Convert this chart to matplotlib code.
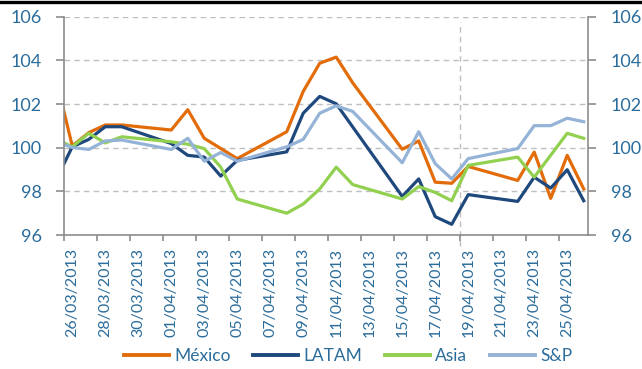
import matplotlib
matplotlib.use('Agg')
import matplotlib.pyplot as plt
import matplotlib.dates as mdates
import matplotlib.transforms as mtransforms
from matplotlib.lines import Line2D
from matplotlib.ticker import FixedLocator, FixedFormatter, NullFormatter
import numpy as np
import pandas as pd

plt.rcParams['font.family'] = ['Lato', 'DejaVu Sans']

nan = np.nan
dates = ['2013-03-25', '2013-03-26', '2013-03-27', '2013-03-28', '2013-03-29',
         '2013-04-01', '2013-04-02', '2013-04-03', '2013-04-04', '2013-04-05',
         '2013-04-08', '2013-04-09', '2013-04-10', '2013-04-11', '2013-04-12',
         '2013-04-15', '2013-04-16', '2013-04-17', '2013-04-18', '2013-04-19',
         '2013-04-22', '2013-04-23', '2013-04-24', '2013-04-25', '2013-04-26']

mexico = [103.2, 100.08, 100.69, 101.04, 101.04, 100.81, 101.74, 100.43, nan, 99.50,
          100.73, 102.58, 103.87, 104.15, 102.97, 99.93, 100.31, 98.42, 98.37, 99.14,
          98.50, 99.80, 97.68, 99.65, 98.11]
latam = [98.5, 100.04, 100.38, 100.96, 100.96, 100.19, 99.65, 99.57, 98.70, 99.42,
         99.81, 101.58, 102.35, 102.01, nan, 97.77, 98.57, 96.84, 96.49, 97.85,
         97.54, 98.65, 98.15, 98.99, 97.57]
asia = [100.4, 100.04, 100.66, 100.22, 100.50, 100.27, 100.16, 99.96, 99.11, 97.65,
        97.00, 97.42, 98.11, 99.11, 98.31, 97.65, 98.22, 97.95, 97.57, 99.19,
        99.57, 98.65, nan, 100.66, 100.43]
sp = [100.29, 100.01, 99.92, 100.31, 100.35, 99.92, 100.43, 99.38, 99.78, 99.38,
      100.04, 100.38, 101.58, 101.92, 101.66, 99.31, 100.73, 99.27, 98.57, 99.50,
      99.96, 101.01, 101.01, 101.35, 101.19]

series_names = ['México', 'LATAM', 'Asia', 'S&P']
series_vals = [mexico, latam, asia, sp]
series_colors = ['#E36C0A', '#1F497D', '#92D050', '#95B3D7']

tick_dates = pd.date_range('2013-03-26', periods=16, freq='2D')
tick_labels = [d.strftime('%d/%m/%Y') for d in tick_dates]
y_ticks = [96, 98, 100, 102, 104, 106]
marker_date = '2013-04-19'

text_color = '#2B6C9B'
spine_color = '#8C8C8C'

fig = plt.figure(figsize=(6.42, 3.69), dpi=100)
ax = fig.add_axes([0.0997, 0.3631, 0.9164 - 0.0997, 0.9547 - 0.3631])

x = pd.to_datetime(dates) + pd.Timedelta(hours=12)
for name, vals, col in zip(series_names, series_vals, series_colors):
    v = np.array(vals, dtype=float)
    m = ~np.isnan(v)
    ax.plot(x[m], v[m], color=col, lw=2.3, label=name, solid_joinstyle='round')

x0 = pd.Timestamp('2013-03-26')
ax.set_xlim(mdates.date2num(x0), mdates.date2num(x0) + 31.78)
ax.set_ylim(96, 106)

# grid
for yv in y_ticks[1:]:
    ax.axhline(yv, color='#BFBFBF', lw=1.0, ls=(0, (4, 3)), zorder=0)

# vertical dashed marker
trans = mtransforms.blended_transform_factory(ax.transData, ax.transAxes)
xm = mdates.date2num(pd.Timestamp(marker_date))
ax.plot([xm, xm], [-0.05, 0.977], transform=trans, color='#BFBFBF', lw=1.0,
        ls=(0, (4, 3)), clip_on=False, zorder=0)

# spines
for s in ['left', 'right', 'bottom']:
    ax.spines[s].set_color(spine_color)
    ax.spines[s].set_linewidth(1.2)
ax.spines['top'].set_visible(False)

# y ticks both sides
ax.set_yticks(y_ticks)
ax.yaxis.set_ticks_position('both')
ax.tick_params(axis='y', which='major', direction='out', length=6, width=1.2,
               color=spine_color, labelsize=13, labelcolor=text_color, pad=10,
               labelleft=True, labelright=True)

# x ticks: major at day boundaries, labels centered in day
ax.xaxis.set_major_locator(FixedLocator(mdates.date2num(tick_dates)))
ax.xaxis.set_major_formatter(NullFormatter())
ax.xaxis.set_minor_locator(FixedLocator(mdates.date2num(tick_dates + pd.Timedelta(hours=12))))
ax.xaxis.set_minor_formatter(FixedFormatter(tick_labels))
ax.tick_params(axis='x', which='major', direction='out', length=4, width=1.2, color=spine_color)
ax.tick_params(axis='x', which='minor', length=0, labelsize=11.5, labelcolor=text_color,
               labelrotation=90, pad=9)

# legend
leg = fig.legend(*ax.get_legend_handles_labels(), loc='center', bbox_to_anchor=(0.542, 0.036),
                 ncol=4, frameon=False, fontsize=12.5, handlelength=2.6,
                 handletextpad=0.3, columnspacing=1.3)
for t in leg.get_texts():
    t.set_color(text_color)
for h in leg.get_lines():
    h.set_linewidth(2.8)

# top black rule
fig.add_artist(Line2D([0, 1], [0.9955, 0.9955], color='black', lw=2.4, transform=fig.transFigure))

fig.savefig('out.png', dpi=100)
